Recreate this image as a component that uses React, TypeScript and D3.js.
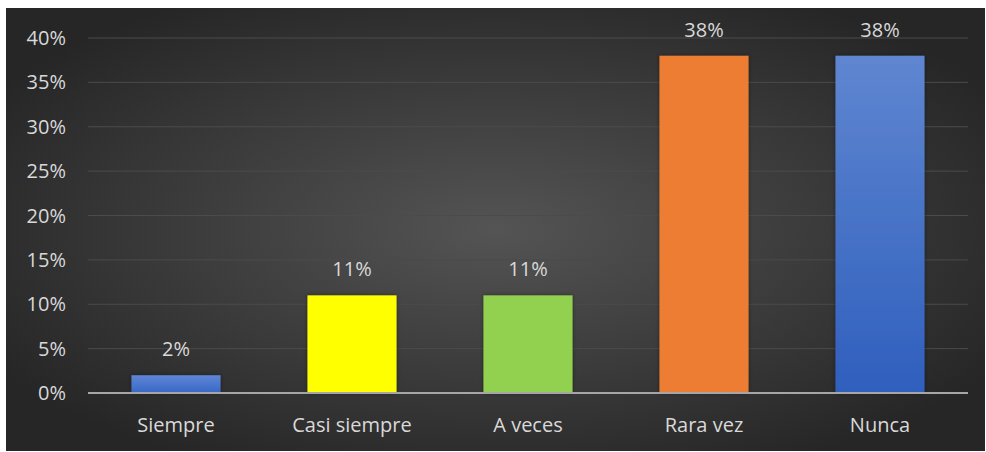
import React from "react";
import * as d3 from "d3";

const categories = ["Siempre", "Casi siempre", "A veces", "Rara vez", "Nunca"];
const values = [2, 11, 11, 38, 38];
const barColors = [
  ["#5f86d6", "#3867c6"],
  ["#ffff00", "#ffff00"],
  ["#92d050", "#92d050"],
  ["#ed7d31", "#ed7d31"],
  ["#5f86d0", "#2f5fbd"],
];
const yTicks = [0, 5, 10, 15, 20, 25, 30, 35, 40];

const W = 986;
const H = 452;
const plot = { left: 88, right: 968, top: 38, bottom: 393 };

export default function App() {
  const x = d3
    .scaleBand<string>()
    .domain(categories)
    .range([plot.left, plot.right])
    .paddingInner(0.494)
    .paddingOuter(0.247);
  const y = d3.scaleLinear().domain([0, 40]).range([plot.bottom, plot.top]);
  const font = "'Open Sans', 'Noto Sans', sans-serif";
  const textColor = "#d9d9d9";
  const fs = 20;

  return (
    <svg
      width={W}
      height={H}
      style={{ position: "absolute", left: 0, top: 0, background: "#ffffff" }}
    >
      <defs>
        <radialGradient id="bg" cx="50%" cy="50%" r="60%">
          <stop offset="0%" stopColor="#545454" />
          <stop offset="100%" stopColor="#262626" />
        </radialGradient>
        {barColors.map((c, i) => (
          <linearGradient key={i} id={`bar${i}`} x1="0" y1="0" x2="0" y2="1">
            <stop offset="0%" stopColor={c[0]} />
            <stop offset="100%" stopColor={c[1]} />
          </linearGradient>
        ))}
        <filter id="shadow" x="-20%" y="-20%" width="140%" height="140%">
          <feDropShadow dx="0" dy="0" stdDeviation="2" floodColor="#000" floodOpacity="0.4" />
        </filter>
      </defs>
      <rect x={6} y={8} width={979} height={443} fill="url(#bg)" />
      {yTicks.map((t) => (
        <g key={t}>
          {t !== 0 && (
            <line
              x1={plot.left}
              x2={plot.right}
              y1={y(t)}
              y2={y(t)}
              stroke="#4b4b4b"
              strokeWidth={1}
            />
          )}
          <text
            x={66}
            y={y(t)}
            dy="0.35em"
            textAnchor="end"
            fill={textColor}
            fontFamily={font}
            fontSize={fs}
          >
            {t}%
          </text>
        </g>
      ))}
      {categories.map((c, i) => (
        <g key={c}>
          <rect
            x={x(c)}
            y={y(values[i])}
            width={x.bandwidth()}
            height={y(0) - y(values[i])}
            fill={`url(#bar${i})`}
            filter="url(#shadow)"
          />
          <text
            x={(x(c) ?? 0) + x.bandwidth() / 2}
            y={y(values[i]) - 19}
            textAnchor="middle"
            fill={textColor}
            fontFamily={font}
            fontSize={fs}
          >
            {values[i]}%
          </text>
          <text
            x={(x(c) ?? 0) + x.bandwidth() / 2}
            y={425}
            dy="0.35em"
            textAnchor="middle"
            fill={textColor}
            fontFamily={font}
            fontSize={fs}
          >
            {c}
          </text>
        </g>
      ))}
      <line
        x1={plot.left}
        x2={plot.right}
        y1={y(0)}
        y2={y(0)}
        stroke="#a6a6a6"
        strokeWidth={2}
      />
    </svg>
  );
}
